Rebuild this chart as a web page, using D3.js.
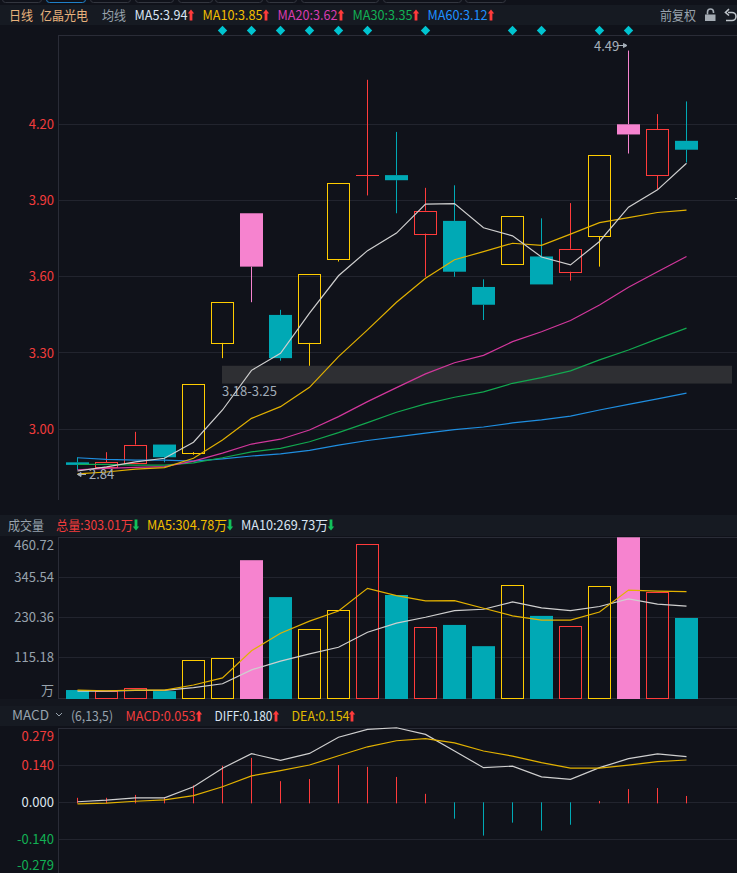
<!DOCTYPE html>
<html><head><meta charset="utf-8">
<style>html,body{margin:0;padding:0;background:#10121a}svg{display:block}
text{font-family:"Noto Sans CJK SC","Noto Sans",sans-serif;font-size:13px;dominant-baseline:central}</style>
<script src="https://cdn.jsdelivr.net/npm/d3@7/dist/d3.min.js"></script></head><body><div id="c"></div>
<script>
// ---- data ----
const open_  = [2.87,2.85,2.87,2.94,2.91,3.34,3.85,3.45,3.34,3.67,4.00,4.00,3.77,3.82,3.56,3.65,3.68,3.62,3.76,4.20,4.00,4.135];
const close_ = [2.86,2.87,2.94,2.89,3.18,3.50,3.64,3.28,3.61,3.97,4.00,3.98,3.86,3.62,3.49,3.84,3.57,3.71,4.08,4.16,4.18,4.10];
const high_  = [2.89,2.91,2.99,2.94,3.18,3.50,3.85,3.47,3.61,3.97,4.375,4.17,3.95,3.96,3.59,3.84,3.83,3.89,4.08,4.49,4.24,4.29];
const low_   = [2.84,2.85,2.87,2.87,2.90,3.28,3.50,3.27,3.25,3.66,3.92,3.85,3.60,3.60,3.43,3.65,3.57,3.585,3.64,4.085,3.945,4.05];
const kinds  = ["down","up","up","down","limit","limit","surge","down","limit","limit","up","down","up","down","down","limit","down","up","limit","surge","up","down"];
const ma5  = [2.836,2.852,2.872,2.886,2.949,3.076,3.232,3.299,3.457,3.604,3.703,3.772,3.886,3.888,3.793,3.761,3.678,3.647,3.739,3.874,3.942,4.047];
const ma10 = [2.825,2.832,2.843,2.849,2.886,2.958,3.043,3.089,3.165,3.286,3.391,3.5,3.594,3.667,3.699,3.732,3.724,3.768,3.813,3.833,3.853,3.862];
const ma20 = [2.84,2.846,2.85,2.853,2.875,2.906,2.942,2.961,2.997,3.05,3.109,3.164,3.218,3.262,3.291,3.345,3.384,3.428,3.489,3.559,3.62,3.68];
const ma30 = [2.862,2.862,2.859,2.859,2.868,2.888,2.911,2.925,2.951,2.987,3.026,3.067,3.1,3.126,3.147,3.181,3.203,3.23,3.273,3.312,3.356,3.398];
const ma60 = [2.888,2.882,2.879,2.879,2.875,2.884,2.895,2.903,2.917,2.938,2.956,2.97,2.985,2.999,3.009,3.025,3.037,3.052,3.076,3.098,3.12,3.142];
const volume = [22,19,29,19,107,113,395,289,196,251,441,295,202,209,148,323,235,205,320,460.72,303.01,229];
const volMa5  = [22,20,22,22,36.5,57,135,185,220,249,314,293,278,279,257,235,223,223,246,309,306,304.4];
const volMa10 = [19,19,21,21,29,40,80,105,126,145,188,214,231,250,254,275,258,250,262,284,269,263];
const diff = [.002,.008,.017,.017,.059,.129,.184,.159,.185,.246,.276,.282,.257,.194,.131,.137,.096,.087,.131,.165,.183,.173];
const dea  = [-.006,-.003,.004,.009,.025,.059,.1,.12,.141,.176,.21,.233,.241,.225,.194,.175,.15,.129,.129,.141,.154,.16];
const macd = [.017,.017,.028,.019,.064,.138,.168,.08,.088,.141,.134,.096,.032,-.062,-.126,-.077,-.107,-.085,.005,.05,.054,.024];
const signalDays = [5,6,7,8,9,10,12,15,16,18,19];
const priceTicks = [3.0,3.3,3.6,3.9,4.2];
const volTicks = [115.18,230.36,345.54,460.72];
const macdTicks = [-0.14,0,0.14,0.279];
const zone = [3.18,3.25];
// ---- layout ----
const W=737,H=873,L=58;
const colors={up:"#ff3b3b",limit:"#ffcc00",surge:"#f683cf",down:"#00a9b5",grid:"#22242e",axis:"#2a2c37",
 w:"#cfcfcf",y:"#e2b100",m:"#d2379c",g:"#12a84f",b:"#1f8ee0",txt:"#98a3ad",hdr:"#161a22",bg:"#10121a",band:"#13161e"};
const svg=d3.select("#c").append("svg").attr("width",W).attr("height",H);
const x=d3.scaleLinear().domain([0,21]).range([77.5,686.5]);
const py=d3.scaleLinear().domain([3,4.2]).range([429.3,124.3]);
const vy=d3.scaleLinear().domain([0,460.72]).range([697.7,537.3]);
const my=d3.scaleLinear().domain([0,0.14]).range([802.3,765.3]);
const I=d3.range(22);
svg.append("rect").attr("width",W).attr("height",H).attr("fill",colors.bg);
// chrome
const tabs=[[2,41],[46,85],[90,130],[135,173],[178,212],[215,262],[266,296],[301,378],[383,461],[465,505]];
svg.append("g").selectAll("rect").data(tabs).join("rect").attr("x",d=>d[0]+.5).attr("y",-6).attr("width",d=>d[1]-d[0]).attr("height",8.5).attr("rx",3)
 .attr("fill","none").attr("stroke",(d,i)=>i==1?"#1f80c8":"#33363f");
[[5,25],[515,536],[706,726]].forEach(b=>svg.append("rect").attr("x",0).attr("y",b[0]).attr("width",W).attr("height",b[1]-b[0]).attr("fill",colors.hdr));
svg.append("rect").attr("x",0).attr("y",699).attr("width",W).attr("height",7).attr("fill",colors.band);
// frames
const hline=(g,y0,c)=>{const r=Math.floor(y0-.29)+.5;g.append("line").attr("x1",L).attr("x2",W).attr("y1",r).attr("y2",r).attr("stroke",c)};
const vline=(y0,y1)=>svg.append("line").attr("x1",L+.5).attr("x2",L+.5).attr("y1",y0).attr("y2",y1).attr("stroke",colors.axis);
const grid=svg.append("g");
vline(35,500);vline(537,699);vline(728,873);
hline(grid,35.5,colors.axis);hline(grid,537.5,colors.axis);hline(grid,698.5,colors.axis);hline(grid,728.5,colors.axis);
priceTicks.forEach(t=>hline(grid,py(t),colors.grid));
volTicks.slice(0,3).forEach(t=>hline(grid,vy(t),colors.grid));
macdTicks.slice(0,3).forEach(t=>hline(grid,my(t),colors.grid));
// tick labels
const lab=(t,xx,yy,c,a)=>svg.append("text").text(t).attr("x",xx).attr("y",yy-1).attr("fill",c).attr("text-anchor",a||"start");
priceTicks.forEach(t=>lab(t.toFixed(2),54,py(t),"#f23c3c","end"));
volTicks.forEach(t=>lab(t.toFixed(2),54,t==460.72?545:vy(t),colors.txt,"end"));
lab("万",54,690,colors.txt,"end");
[[0.279,736,"#f23c3c"],[0.14,my(.14),"#f23c3c"],[0,my(0),"#dfe6ee"],[-0.14,my(-.14),"#12b054"],[-0.279,865,"#12b054"]]
 .forEach(d=>lab(d[0].toFixed(3),54,d[1],d[2],"end"));
// zone
svg.append("rect").attr("x",x(5)-.5).attr("width",732-x(5)+.5).attr("y",py(zone[1])).attr("height",py(zone[0])-py(zone[1])).attr("fill","#2e2f33");
lab(zone[0].toFixed(2)+"-"+zone[1].toFixed(2),222,391,"#a0acb8");
// signals
svg.append("g").selectAll("path").data(signalDays).join("path").attr("transform",d=>`translate(${x(d)},30.5)`)
 .attr("d","M0,-4.7L4.7,0L0,4.7L-4.7,0Z").attr("fill","#00c4d0");
// candles
const cg=svg.append("g");
const px=i=>Math.floor(x(i))+.5;
I.forEach(i=>{
 const c=colors[kinds[i]],top=Math.max(open_[i],close_[i]),bot=Math.min(open_[i],close_[i]),yt=py(top),yb=py(bot);
 const wick=(a,b)=>{if(Math.abs(py(a)-py(b))>.4)cg.append("line").attr("x1",px(i)).attr("x2",px(i)).attr("y1",py(a)).attr("y2",py(b)).attr("stroke",c)};
 wick(high_[i],top);wick(bot,low_[i]);
 if(kinds[i]=="down"||kinds[i]=="surge") cg.append("rect").attr("x",x(i)-11.5).attr("width",23).attr("y",yt).attr("height",Math.max(yb-yt,1)).attr("fill",c);
 else if(yb-yt<1) cg.append("line").attr("x1",x(i)-11.5).attr("x2",x(i)+11.5).attr("y1",Math.round(yt)+.5).attr("y2",Math.round(yt)+.5).attr("stroke",c);
 else cg.append("rect").attr("x",x(i)-11).attr("width",22).attr("y",Math.round(yt)+.5).attr("height",Math.round(yb-yt)).attr("fill","none").attr("stroke",c);
});
// volume bars
I.forEach(i=>{
 const c=colors[kinds[i]],yt=vy(volume[i]),filled=kinds[i]=="down"||kinds[i]=="surge";
 if(filled) svg.append("rect").attr("x",x(i)-11.5).attr("width",23).attr("y",yt).attr("height",699-yt).attr("fill",c);
 else svg.append("rect").attr("x",x(i)-11).attr("width",22).attr("y",Math.round(yt)+.5).attr("height",698-Math.round(yt)).attr("fill","none").attr("stroke",c);
});
// macd bars
I.forEach(i=>svg.append("line").attr("x1",px(i)).attr("x2",px(i)).attr("y1",my(macd[i])).attr("y2",my(macd[i]>0?-0.004:0)).attr("stroke",macd[i]>0?colors.up:colors.down));
// lines
const draw=(arr,sc,c)=>svg.append("path").datum(arr).attr("fill","none").attr("stroke",c).attr("stroke-width",1.2)
 .attr("d",d3.line().x((d,i)=>x(i)).y(d=>sc(d)));
draw(ma60,py,colors.b);draw(ma30,py,colors.g);draw(ma20,py,colors.m);draw(ma10,py,colors.y);draw(ma5,py,colors.w);
draw(volMa10,vy,colors.w);draw(volMa5,vy,colors.y);
draw(diff,my,colors.w);draw(dea,my,colors.y);
// annotations
lab("4.49",594,46,"#a6b0ba");
svg.append("path").attr("d","M617,45.5H626M623.5,43.5L627,45.5L623.5,47.5Z").attr("fill","#a6b0ba").attr("stroke","#a6b0ba");
lab("2.84",89,474,"#a6b0ba");
svg.append("path").attr("d","M78,474.5H86M81,472.5L77.5,474.5L81,476.5Z").attr("fill","#a6b0ba").attr("stroke","#a6b0ba");
svg.append("line").attr("x1",735).attr("x2",737).attr("y1",198.5).attr("y2",198.5).attr("stroke","#8a8f98");
// headers
const arrow=(xx,yy,c,up)=>svg.append("path").attr("transform",`translate(${xx},${yy})${up?"":" scale(1,-1)"}`).attr("d","M0,-5.5L3.2,-1.5H1.4V5.5H-1.4V-1.5H-3.2Z").attr("fill",c);
const head=(t,xx,yy,c,w)=>{const e=lab(t,xx,yy,c);if(w)e.attr("textLength",w).attr("lengthAdjust","spacingAndGlyphs");return e};
const RED="#ff3b3b",GRN="#12c05a";
head("日线",9,15,"#e8b27c",24);head("亿晶光电",40,15,"#e8b27c",48);head("均线",102,15,colors.txt,24);
head("MA5:3.94",134.5,15,"#d8e4f2",53);arrow(191,15,RED,true);
head("MA10:3.85",202.5,15,"#f2bf00",60);arrow(266,15,RED,true);
head("MA20:3.62",277.5,15,"#d83cb0",60);arrow(341,15,RED,true);
head("MA30:3.35",352.5,15,"#12b054",60);arrow(416,15,RED,true);
head("MA60:3.12",427.5,15,"#1e90ff",60);arrow(491,15,RED,true);
head("前复权",660,15,colors.txt,36);
svg.append("path").attr("d","M705,14.5H715.5V21H705Z").attr("fill","#a5acb4");
svg.append("path").attr("d","M707.5,14.5V12A3,3 0 0 1 713.5,12V13").attr("fill","none").attr("stroke","#a5acb4").attr("stroke-width",1.6);
svg.append("path").attr("d","M728,12.5H732A3.8,3.8 0 0 1 732,20.5H726M729,9L725.5,12.5L729,15.5").attr("fill","none").attr("stroke","#c0c6cc").attr("stroke-width",1.6);
head("成交量",8,525,colors.txt,36);
head("总量:303.01万",56,525,"#f23c3c",77);arrow(136,525,GRN,false);
head("MA5:304.78万",147,525,"#f2bf00",80);arrow(230,525,GRN,false);
head("MA10:269.73万",241,525,"#d8e4f2",87);arrow(331,525,GRN,false);
head("MACD",12,715,colors.txt,37);
svg.append("path").attr("d","M56,713L59,716L62,713").attr("fill","none").attr("stroke",colors.txt);
head("(6,13,5)",71,716,colors.txt,42);
head("MACD:0.053",125.5,716,"#f23c3c",70);arrow(199,716,RED,true);
head("DIFF:0.180",214.5,716,"#d8e4f2",58);arrow(276,716,RED,true);
head("DEA:0.154",291.5,716,"#e0bb00",58);arrow(352,716,RED,true);
</script></body></html>
